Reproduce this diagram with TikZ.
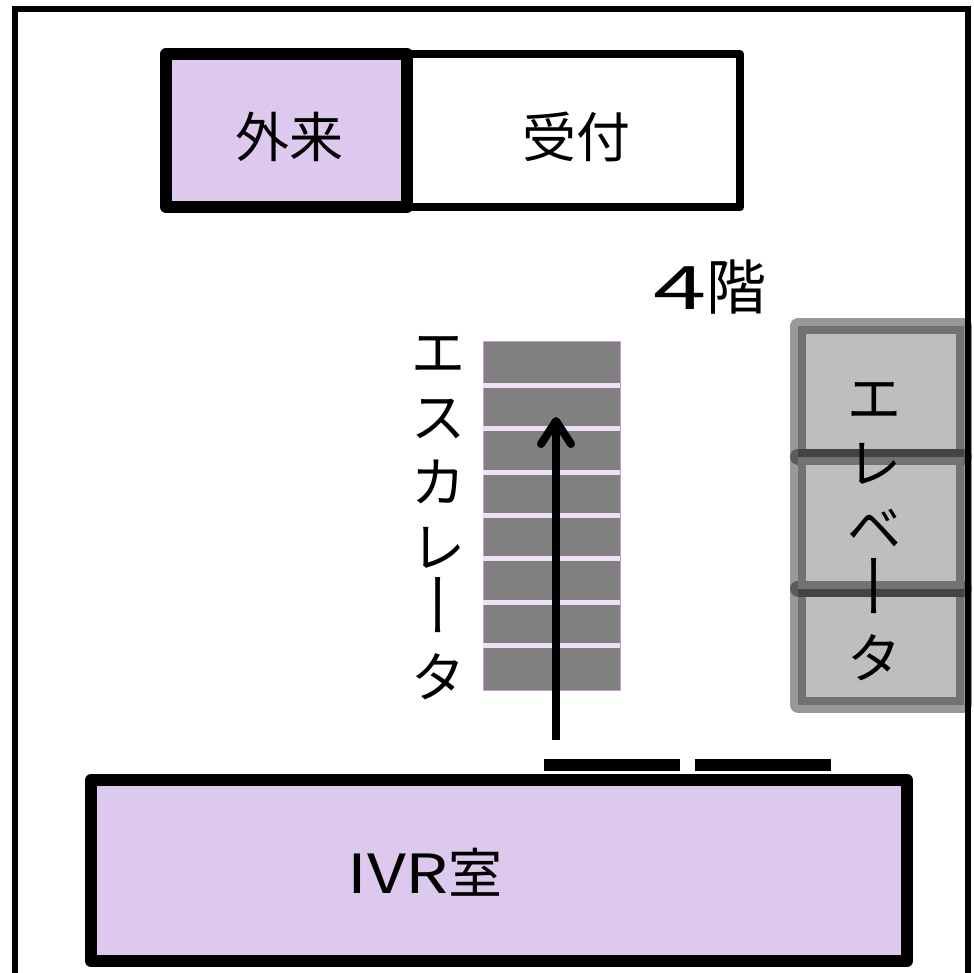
\documentclass[tikz,border=0pt]{standalone}
\usepackage{fontspec}
\setmainfont{Noto Sans CJK JP}
\newfontfamily\vertfont[RawFeature=+vert]{Noto Sans CJK JP}
\newcommand{\longbar}{\scalebox{1}[1.3]{\vertfont ー}}
\usetikzlibrary{arrows.meta}
\definecolor{roomfill}{HTML}{DDC8EE}
\definecolor{stepline}{HTML}{EDE0F7}
\definecolor{liftfill}{HTML}{BEBEBE}
\begin{document}
\begin{tikzpicture}[x=1pt,y=-1pt,>={Straight Barb[length=23pt,width=30pt,round]}]
    \tikzset{room/.style    = {draw,
                               line join     = round,
                               inner sep     = 0pt},
             label/.style   = {align         = center,
                               inner sep     = 0pt,
                               font          = \fontsize{54}{65}\selectfont},
             liftbox/.style = {draw          = black,
                               draw opacity  = 0.4,
                               fill          = liftfill,
                               line width    = 16pt,
                               line join     = round,
                               minimum width = 166pt,
                               inner sep     = 0pt},
             doorbar/.style = {fill          = black,
                               minimum width = 136pt,
                               minimum height= 12pt,
                               inner sep     = 0pt}}
    \useasboundingbox (0,0) rectangle (974,973);
    % rooms
    \node[room, line width = 8pt, minimum width = 333pt, minimum height = 153pt]
        (uketsuke) at (573.5,131) {};
    \node[room, line width = 12pt, fill = roomfill, minimum width = 241pt, minimum height = 153pt]
        (gairai) at (286.5,130.5) {};
    \node[room, line width = 12pt, fill = roomfill, minimum width = 816pt, minimum height = 181pt]
        (ivr) at (499,870.5) {};
    \node[label] (uketsukelabel) at (576,137) {受付};
    \node[label] (gairailabel) at (289,137) {外来};
    \node[label] (ivrlabel) at (425,872) {\scalebox{1.25}[1]{IVR}室};
    \node[label, font = \fontsize{60}{60}\selectfont] (floor) at (710,287) {\scalebox{1.6}[1]{4}階};
    % escalator
    \node[draw = stepline!70!violet, line width = 0.8pt, fill = gray, minimum width = 137pt,
          minimum height = 349pt, inner sep = 0pt] (escalator) at (551.5,515.5) {};
    \foreach \stepy in {385,428.5,472,515,558.5,602,645}
        \draw[stepline, line width = 5pt] (escalator.west |- 0,\stepy) -- (escalator.east |- 0,\stepy);
    \node[label] (esclabel) at (438,518) {エ\\ス\\カ\\レ\\\longbar\\タ};
    \coordinate (arrowfoot) at (556,740);
    \coordinate (arrowtip) at (556,417);
    \draw[->, line width = 8pt] (arrowfoot) -- (arrowtip);
    % elevator
    \node[liftbox, minimum height = 116pt] (liftc) at (881,646.5) {};
    \node[liftbox, minimum height = 130pt] (lifta) at (881,391.5) {};
    \node[liftbox, minimum height = 132pt] (liftb) at (881,522.5) {};
    \node[label] (liftlabel) at (874,532) {エ\\レ\\ベ\\\longbar\\タ};
    % doors
    \node[doorbar] (doora) at (612,765) {};
    \node[doorbar] (doorb) at (763,765) {};
    % outer wall
    \coordinate (wallsw) at (14.5,973);
    \coordinate (wallnw) at (14.5,9);
    \coordinate (wallne) at (968,9);
    \coordinate (wallse) at (968,973);
    \draw[line width = 6pt] (wallsw) -- (wallnw) -- (wallne) -- (wallse);
\end{tikzpicture}
\end{document}
